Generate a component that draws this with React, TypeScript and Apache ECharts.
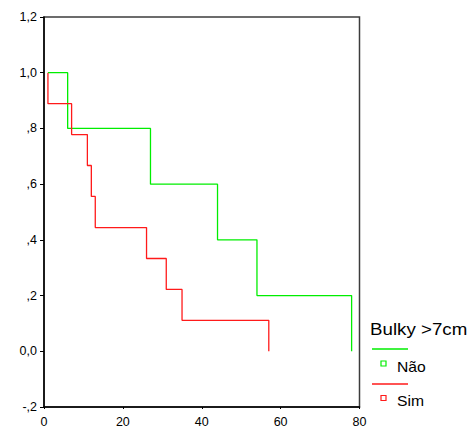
import React, { useEffect, useRef } from "react";
import * as echarts from "echarts";

// Kaplan-Meier survival steps (time, cumulative survival)
const naoTimes = [1, 6, 27, 44, 54, 78];
const naoSurv = [1.0, 0.8, 0.6, 0.4, 0.2, 0.0];
const simTimes = [1, 1, 7, 11, 12, 13, 26, 31, 35, 57];
const simSurv = [1.0, 0.889, 0.778, 0.667, 0.556, 0.444, 0.333, 0.222, 0.111, 0.0];

const yTickValues = [-0.2, 0.0, 0.2, 0.4, 0.6, 0.8, 1.0, 1.2];
const yTickLabels = ["-,2", "0,0", ",2", ",4", ",6", ",8", "1,0", "1,2"];
const xTickLabels = ["0", "20", "40", "60", "80"];

const legendTitle = "Bulky >7cm";
const seriesNames = ["Não", "Sim"];
const seriesColors = ["#00ee00", "#ff1a1a"];

const FONT = "'Liberation Sans', Arial, sans-serif";

export default function App() {
  const ref = useRef<HTMLDivElement>(null);
  useEffect(() => {
    if (!ref.current) return;
    const chart = echarts.init(ref.current, undefined, { renderer: "svg" });
    const toPairs = (t: number[], s: number[]) => t.map((x, i) => [x, s[i]]);
    const option: any = {
      animation: false,
      backgroundColor: "#ffffff",
      grid: {
        left: 44,
        right: 107.5,
        top: 17,
        bottom: 20,
        show: true,
        borderColor: "#3c3c3c",
        borderWidth: 1.5,
        backgroundColor: "transparent",
      },
      xAxis: {
        type: "value",
        min: 0,
        max: 80,
        interval: 20,
        splitLine: { show: false },
        axisLine: { show: true, onZero: false, lineStyle: { color: "#000", width: 1.5 } },
        axisTick: { show: true, length: 2, lineStyle: { color: "#000", width: 1 } },
        axisLabel: {
          color: "#000",
          fontFamily: FONT,
          fontSize: 12.5,
          margin: 8,
          formatter: (v: number) => xTickLabels[Math.round(v / 20)] ?? "",
        },
      },
      yAxis: {
        type: "value",
        min: -0.2,
        max: 1.2,
        interval: 0.2,
        splitLine: { show: false },
        axisLine: { show: true, onZero: false, lineStyle: { color: "#000", width: 1.5 } },
        axisTick: { show: true, length: 4, lineStyle: { color: "#000", width: 1 } },
        axisLabel: {
          color: "#000",
          fontFamily: FONT,
          fontSize: 12.5,
          margin: 7,
          formatter: (v: number) => {
            const idx = yTickValues.findIndex((t) => Math.abs(t - v) < 1e-6);
            return idx >= 0 ? yTickLabels[idx] : "";
          },
        },
      },
      series: [
        {
          name: seriesNames[0],
          type: "line",
          step: "end",
          data: toPairs(naoTimes, naoSurv),
          showSymbol: false,
          symbol: "none",
          lineStyle: { color: seriesColors[0], width: 1.3 },
          z: 3,
        },
        {
          name: seriesNames[1],
          type: "line",
          step: "end",
          data: toPairs(simTimes, simSurv),
          showSymbol: false,
          symbol: "none",
          lineStyle: { color: seriesColors[1], width: 1.3 },
          z: 4,
        },
      ],
      graphic: [
        {
          type: "text",
          x: 370,
          y: 329,
          scaleX: 1.17,
          style: {
            text: legendTitle,
            fill: "#000",
            font: `16px ${FONT}`,
            textVerticalAlign: "middle",
            textAlign: "left",
          },
        },
        {
          type: "line",
          shape: { x1: 372, y1: 349, x2: 408, y2: 349 },
          style: { stroke: seriesColors[0], lineWidth: 1.3 },
        },
        {
          type: "rect",
          shape: { x: 381, y: 361, width: 5, height: 5 },
          style: { stroke: seriesColors[0], fill: "#fff", lineWidth: 1.2 },
        },
        {
          type: "text",
          x: 397,
          y: 367,
          scaleX: 1.12,
          style: {
            text: seriesNames[0],
            fill: "#000",
            font: `14px ${FONT}`,
            textVerticalAlign: "middle",
            textAlign: "left",
          },
        },
        {
          type: "line",
          shape: { x1: 372, y1: 384, x2: 408, y2: 384 },
          style: { stroke: seriesColors[1], lineWidth: 1.3 },
        },
        {
          type: "rect",
          shape: { x: 381, y: 395.5, width: 5, height: 5 },
          style: { stroke: seriesColors[1], fill: "#fff", lineWidth: 1.2 },
        },
        {
          type: "text",
          x: 397,
          y: 401,
          scaleX: 1.12,
          style: {
            text: seriesNames[1],
            fill: "#000",
            font: `14px ${FONT}`,
            textVerticalAlign: "middle",
            textAlign: "left",
          },
        },
      ],
    };
    chart.setOption(option);
    return () => chart.dispose();
  }, []);
  return (
    <div
      ref={ref}
      style={{ position: "absolute", left: 0, top: 0, width: 467, height: 428, overflow: "hidden" }}
    />
  );
}
